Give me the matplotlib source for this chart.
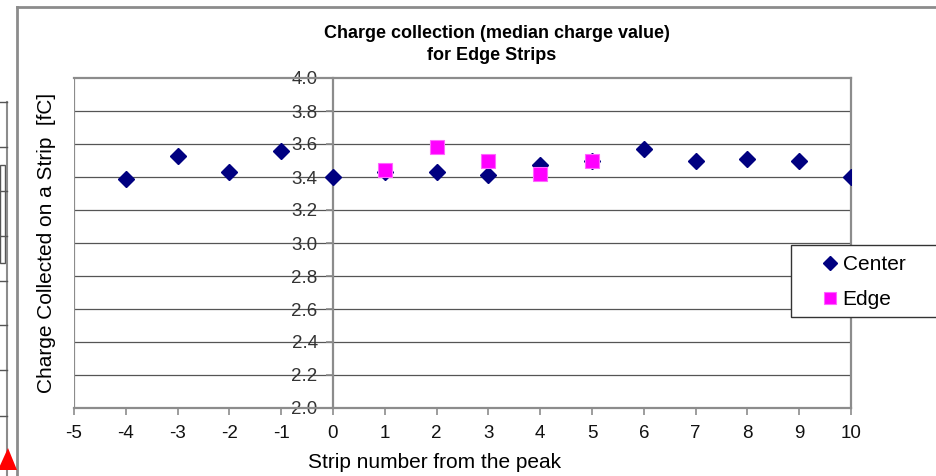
import matplotlib
matplotlib.use("Agg")
import matplotlib.pyplot as plt
from matplotlib.lines import Line2D
from matplotlib.patches import Rectangle, Polygon

plt.rcParams['font.family'] = ['Liberation Sans', 'DejaVu Sans']

# data
center_x = [-4, -3, -2, -1, 0, 1, 2, 3, 4, 5, 6, 7, 8, 9, 10]
center_y = [3.39, 3.53, 3.43, 3.56, 3.40, 3.43, 3.43, 3.41, 3.47, 3.50, 3.57, 3.50, 3.51, 3.495, 3.40]
edge_x = [1, 2, 3, 4, 5]
edge_y = [3.44, 3.58, 3.50, 3.42, 3.50]
xticks = list(range(-5, 11))
yticks = [2.0, 2.2, 2.4, 2.6, 2.8, 3.0, 3.2, 3.4, 3.6, 3.8, 4.0]

W, H = 937, 476
fig = plt.figure(figsize=(W / 100, H / 100), dpi=100)
ax = fig.add_axes([74 / W, 1 - 408 / H, (851 - 74) / W, (408 - 78) / H])

border = '#8c8c8c'
for yv in yticks[1:-1]:
    ax.axhline(yv, color='#555555', lw=0.9, zorder=1)
ax.axvline(-5, color=border, lw=1.6, zorder=1)

ax.plot(center_x, center_y, 'D', color='#000080', ms=8, mec='#000080', ls='none', label='Center', zorder=3)
ax.plot(edge_x, edge_y, 's', color='#ff00ff', ms=10.5, mec='#ff66ff', mew=0.8, ls='none', label='Edge', zorder=4)

ax.set_xlim(-5, 10)
ax.set_ylim(2.0, 4.0)
ax.set_xticks(xticks)
ax.set_xticklabels([str(v) for v in xticks])
ax.set_yticks(yticks)
ax.set_yticklabels(['%.1f' % v for v in yticks])

ax.spines['left'].set_position(('data', 0))
for s in ['left', 'right', 'top', 'bottom']:
    ax.spines[s].set_color(border)
    ax.spines[s].set_linewidth(1.6)
ax.tick_params(axis='both', direction='out', length=5, width=1.2, color=border, labelsize=13.5)
ax.tick_params(axis='y', pad=6, labelcolor='#333333')
ax.tick_params(axis='x', pad=7, labelcolor='#111111')

fig.text(497 / W, 1 - 33 / H, 'Charge collection (median charge value)', ha='center', va='center',
         fontsize=13, fontweight='bold')
fig.text(492 / W, 1 - 55 / H, 'for Edge Strips', ha='center', va='center',
         fontsize=13, fontweight='bold')
fig.text(435 / W, 1 - 462 / H, 'Strip number from the peak', ha='center', va='center', fontsize=15)
fig.text(47 / W, 1 - 243 / H, 'Charge Collected on a Strip  [fC]', ha='center', va='center',
         rotation=90, fontsize=15)

# legend box that runs off the right edge
fig.patches.append(Rectangle((791 / W, 1 - 317 / H), 160 / W, 72 / H, transform=fig.transFigure,
                             facecolor='white', edgecolor='#333333', lw=1.0, zorder=5))
leg = fig.legend(loc='center left', bbox_to_anchor=(803 / W, 1 - 282 / H), frameon=False,
                 fontsize=15, handlelength=0.8, handletextpad=0.2, labelspacing=0.75,
                 markerscale=0.85)
leg.set_zorder(6)

# outer chart frame
fig.add_artist(Line2D([17 / W, 1], [1 - 7 / H, 1 - 7 / H], transform=fig.transFigure, color=border, lw=2))
fig.add_artist(Line2D([17 / W, 17 / W], [1 - 7 / H, 0], transform=fig.transFigure, color=border, lw=2))

# piece of another chart peeking in on the left
fig.add_artist(Line2D([7 / W, 7 / W], [1 - 102 / H, 0], transform=fig.transFigure, color=border, lw=1.5))
for yy in [102, 147, 191, 236, 281, 325, 370, 416]:
    fig.add_artist(Line2D([0, 7 / W], [1 - yy / H, 1 - yy / H], transform=fig.transFigure, color='#555555', lw=1))
fig.patches.append(Rectangle((0, 1 - 263 / H), 5 / W, 98 / H, transform=fig.transFigure,
                             facecolor='none', edgecolor='#555555', lw=1))
fig.patches.append(Polygon([(-2 / W, 1 - 470 / H), (17 / W, 1 - 470 / H), (8 / W, 1 - 448 / H)],
                           closed=True, transform=fig.transFigure, facecolor='#ff0000', edgecolor='none',
                           zorder=10))

fig.savefig('out.png', dpi=100)
